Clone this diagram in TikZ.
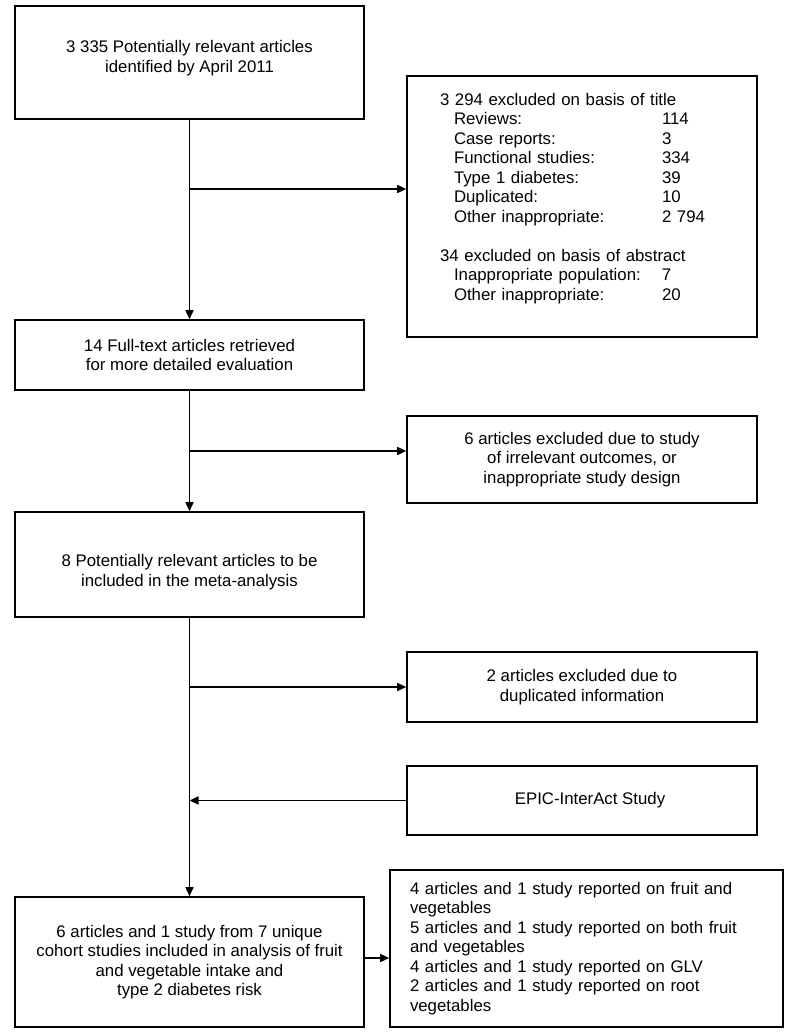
\documentclass[tikz,border=0pt]{standalone}
\usepackage{fontspec}
\setmainfont{Liberation Sans}
\usetikzlibrary{arrows.meta}

% invisible strut below the last line, lifts the text in its box
\newcommand{\lift}[1]{\rule[-#1]{0pt}{#1}}
% one indented line of an exclusion list
\newcommand{\exrow}[2]{\hspace*{14pt}\makebox[208pt][l]{#1}#2}

\begin{document}
\begin{tikzpicture}[x=1pt, y=-1pt,
	box/.style={draw, line width=1.6pt, align=center, inner sep=0pt,
		font=\fontsize{16.8}{19.5}\selectfont},
	listbox/.style={box, align=left},
	arr/.style={line width=1.6pt, -{Triangle[length=9pt,width=8pt]}}]
	\useasboundingbox (0,0) rectangle (800,1036);

	% left column
	\node[box, minimum width=349pt, minimum height=113pt] (found) at (189.5,62.5)
		{3 335 Potentially relevant articles\\identified by April 2011\lift{12.5pt}};
	\node[box, minimum width=349pt, minimum height=70pt] (fulltext) at (189.5,355)
		{14 Full-text articles retrieved\\for more detailed evaluation};
	\node[box, minimum width=349pt, minimum height=105pt] (eligible) at (189.5,564.5)
		{\rule{0pt}{27pt}8 Potentially relevant articles to be\\included in the meta-analysis};
	\node[box, minimum width=349pt, minimum height=130pt] (included) at (189.5,962)
		{6 articles and 1 study from 7 unique\\cohort studies included in analysis of fruit\\and vegetable intake and\\type 2 diabetes risk};

	% right column
	\node[listbox, text width=284pt, inner xsep=33pt, minimum height=261pt] (title) at (582,206.5)
		{3 294 excluded on basis of title\\
		\exrow{Reviews:}{114}\\
		\exrow{Case reports:}{3}\\
		\exrow{Functional studies:}{334}\\
		\exrow{Type 1 diabetes:}{39}\\
		\exrow{Duplicated:}{10}\\
		\exrow{Other inappropriate:}{2 794}\\[19.5pt]
		34 excluded on basis of abstract\\
		\exrow{Inappropriate population:}{7}\\
		\exrow{Other inappropriate:}{20}\lift{19.5pt}};
	\node[box, minimum width=350pt, minimum height=87pt] (design) at (582,459.5)
		{6 articles excluded due to study\\of irrelevant outcomes, or\\inappropriate study design};
	\node[box, minimum width=350pt, minimum height=70pt] (duplicate) at (582,687)
		{2 articles excluded due to\\duplicated information};
	\node[box, minimum width=350pt, minimum height=69pt] (epic) at (582,800.5)
		{\hspace*{16pt}EPIC-InterAct Study};
	\node[listbox, text width=353pt, inner xsep=20pt, minimum height=157pt] (subsets) at (586.5,948.5)
		{4 articles and 1 study reported on fruit and\\vegetables\\
		5 articles and 1 study reported on both fruit\\and vegetables\\
		4 articles and 1 study reported on GLV\\
		2 articles and 1 study reported on root\\vegetables};

	% branch points on the main line
	\coordinate (split1) at (189.5,189);
	\coordinate (split2) at (189.5,451);
	\coordinate (join) at (189.5,800.5);

	% connectors
	\draw[arr] (found) -- (fulltext);
	\draw[arr] (split1) -- (split1 -| title.west);
	\draw[arr] (fulltext) -- (eligible);
	\draw[arr] (split2) -- (split2 -| design.west);
	\draw[arr] (eligible) -- (included);
	\draw[arr] (eligible.south |- duplicate.west) -- (duplicate.west);
	\draw[arr] (epic.west) -- (join);
	\draw[arr] ([yshift=4pt]included.east) -- ([yshift=4pt]included.east -| subsets.west);
\end{tikzpicture}
\end{document}
